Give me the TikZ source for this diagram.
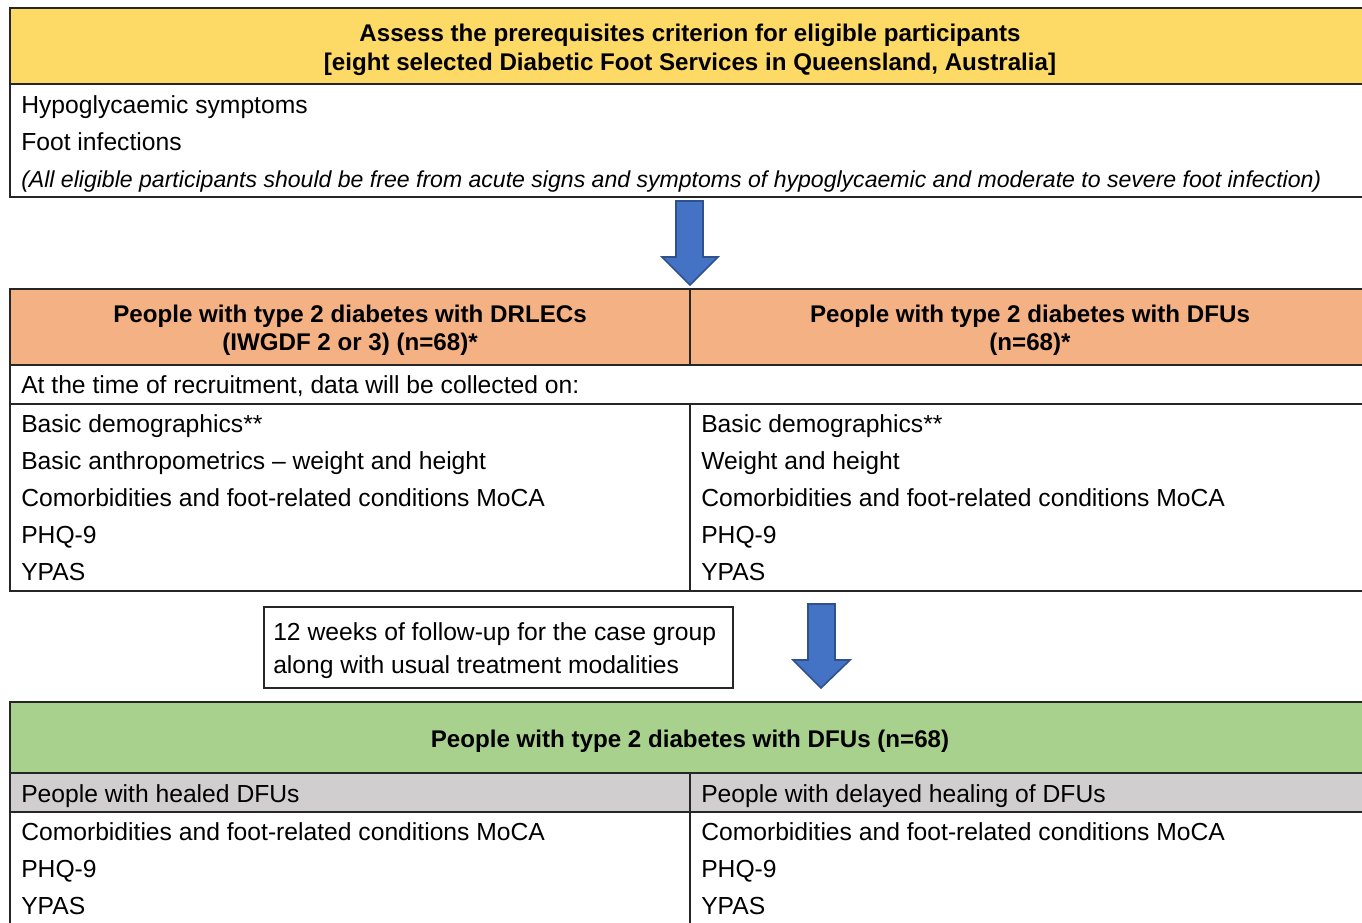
\documentclass[tikz,border=0pt]{standalone}
\usepackage{fontspec}
\setmainfont{Liberation Sans}
\definecolor{hdryellow}{HTML}{FDD966}
\definecolor{hdrorange}{HTML}{F4B183}
\definecolor{hdrgreen}{HTML}{A9D18E}
\definecolor{rowgray}{HTML}{D0CECE}
\definecolor{arrowfill}{HTML}{4472C4}
\definecolor{arrowline}{HTML}{2F528F}
\newcommand\mysize{\fontsize{18.5}{22}\selectfont}
\newcommand\myboldsize{\fontsize{18.1}{22}\selectfont}
\newcommand\myitsize{\fontsize{17.3}{21}\selectfont}
\tikzset{
  frame/.style={draw=black!85, line width=1pt},
  txt/.style={anchor=west, inner sep=0pt, text height=0.716em, text depth=0pt},
  ctxt/.style={inner sep=0pt, align=center, font={\myboldsize\bfseries}},
  blockarrow/.style={fill=arrowfill, draw=arrowline, line width=1.2pt, line join=miter},
}
\begin{document}
\begin{tikzpicture}[x=0.75pt,y=-0.75pt, font=\mysize]
\useasboundingbox (0,0) rectangle (1362,922);
\clip (0,0) rectangle (1362,922);
% ---------- top box
\fill[hdryellow] (10,8) rectangle (1370,84);
\draw[frame] (10,8) rectangle (1370,197);
\draw[frame] (10,84) -- (1370,84);
\node[ctxt] (t1) at (690,35) {Assess the prerequisites criterion for eligible participants};
\node[ctxt] (t2) at (690,64) {[eight selected Diabetic Foot Services in Queensland, Australia]};
\node[txt] (a1) at (21,109) {Hypoglycaemic symptoms};
\node[txt] (a2) at (21,146) {Foot infections};
\node[txt, font={\myitsize\itshape}] (a3) at (21,183) {(All eligible participants should be free from acute signs and symptoms of hypoglycaemic and moderate to severe foot infection)};
% ---------- arrow 1
\draw[blockarrow] (676,201) -- (703,201) -- (703,257) -- (718,257) -- (690,285) -- (662,257) -- (676,257) -- cycle;
% ---------- table 2
\fill[hdrorange] (10,289) rectangle (1370,365);
\draw[frame] (10,289) rectangle (1370,591);
\draw[frame] (10,365) -- (1370,365);
\draw[frame] (10,404) -- (1370,404);
\draw[frame] (690,289) -- (690,365);
\draw[frame] (690,404) -- (690,591);
\node[ctxt] (h1) at (350,330) {People with type 2 diabetes with DRLECs\\[-1pt](IWGDF 2 or 3) (n=68)*};
\node[ctxt] (h2) at (1030,330) {People with type 2 diabetes with DFUs\\[-1pt](n=68)*};
\node[txt] (b0) at (21,389) {At the time of recruitment, data will be collected on:};
\node[txt] (l1) at (21,428) {Basic demographics**};
\node[txt] (l2) at (21,465) {Basic anthropometrics -- weight and height};
\node[txt] (l3) at (21,502) {Comorbidities and foot-related conditions MoCA};
\node[txt] (l4) at (21,539) {PHQ-9};
\node[txt] (l5) at (21,576) {YPAS};
\node[txt] (r1) at (701,428) {Basic demographics**};
\node[txt] (r2) at (701,465) {Weight and height};
\node[txt] (r3) at (701,502) {Comorbidities and foot-related conditions MoCA};
\node[txt] (r4) at (701,539) {PHQ-9};
\node[txt] (r5) at (701,576) {YPAS};
% ---------- follow-up box
\draw[frame] (264,607) rectangle (733,688);
\node[txt] (f1) at (273,636) {12 weeks of follow-up for the case group};
\node[txt] (f2) at (273,669) {along with usual treatment modalities};
% ---------- arrow 2
\draw[blockarrow] (808,604) -- (835,604) -- (835,660) -- (850,660) -- (821,688) -- (793,660) -- (808,660) -- cycle;
% ---------- table 3
\fill[hdrgreen] (10,702) rectangle (1370,773);
\fill[rowgray] (10,773) rectangle (1370,812);
\draw[frame] (10,702) rectangle (1370,940);
\draw[frame] (10,773) -- (1370,773);
\draw[frame] (10,812) -- (1370,812);
\draw[frame] (690,773) -- (690,940);
\node[ctxt] (g1) at (690,741) {People with type 2 diabetes with DFUs (n=68)};
\node[txt] (s1) at (21,798) {People with healed DFUs};
\node[txt] (s2) at (701,798) {People with delayed healing of DFUs};
\node[txt] (m1) at (21,836) {Comorbidities and foot-related conditions MoCA};
\node[txt] (m2) at (21,873) {PHQ-9};
\node[txt] (m3) at (21,910) {YPAS};
\node[txt] (n1) at (701,836) {Comorbidities and foot-related conditions MoCA};
\node[txt] (n2) at (701,873) {PHQ-9};
\node[txt] (n3) at (701,910) {YPAS};
\end{tikzpicture}
\end{document}
